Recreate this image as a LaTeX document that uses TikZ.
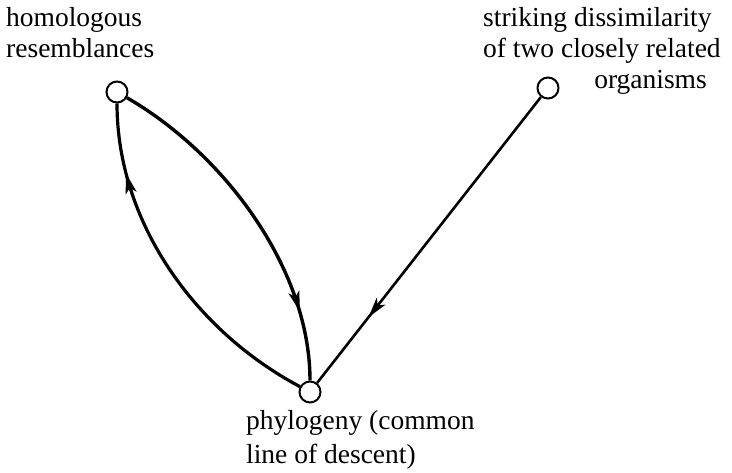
\documentclass[tikz,border=0pt]{standalone}
\usepackage{fontspec}
\setmainfont{Liberation Serif}
\usetikzlibrary{arrows.meta,decorations.markings}
\begin{document}
\begin{tikzpicture}[x=1pt, y=1pt,
  v/.style={circle, draw, line width=2pt, minimum size=21pt, inner sep=0pt},
  lbl/.style={inner sep=0pt, font=\fontsize{27.5}{31}\selectfont},
  midarrow/.style={postaction={decorate}, decoration={markings,
    mark=at position #1 with {\arrow{Stealth[length=20pt, width=11pt, inset=5pt]}}}}]
\useasboundingbox (0,0) rectangle (732,472);
\node[v] (a) at (117,380) {};
\node[v] (b) at (548,384) {};
\node[v] (c) at (310,80) {};
\draw[line width=3.4pt, midarrow=0.8] (a) to[out=-30, in=90, looseness=0.85] (c);
\draw[line width=3.2pt, midarrow=0.8] (c) to[out=152, in=-90, looseness=0.9] (a);
\draw[line width=2.6pt, midarrow=0.77] (b) -- (c);
\node[lbl, anchor=base west] (h1) at (6,445) {homologous};
\node[lbl, anchor=base west] (h2) at (6,414) {resemblances};
\node[lbl, anchor=base west] (s1) at (483,445) {striking dissimilarity};
\node[lbl, anchor=base west] (s2) at (483,414) {of two closely related};
\node[lbl, anchor=base east] (s3) at (707,383) {organisms};
\node[lbl, anchor=base west] (p1) at (246,42) {phylogeny (common};
\node[lbl, anchor=base west] (p2) at (246,9) {line of descent)};
\end{tikzpicture}
\end{document}
